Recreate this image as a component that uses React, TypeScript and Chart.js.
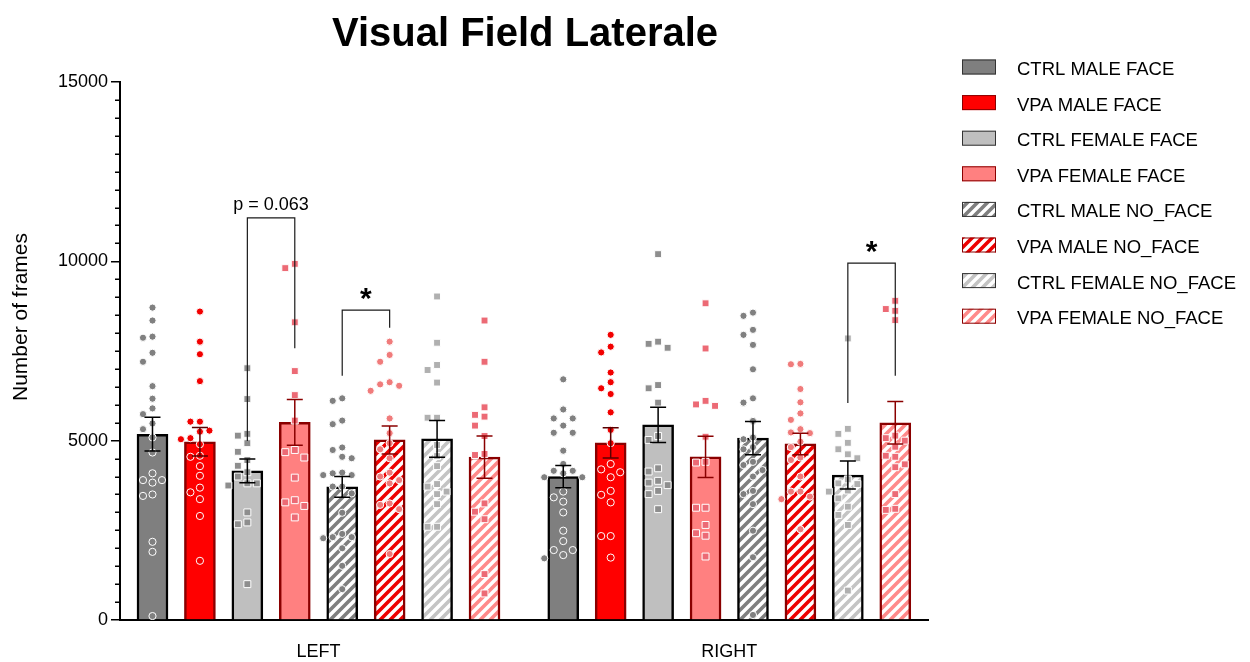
import React, { useEffect, useRef } from 'react';
import { Chart, registerables } from 'chart.js';

Chart.register(...registerables);

// ---------------- DATA ----------------
const TITLE = 'Visual Field Laterale';
const Y_TITLE = 'Number of frames';
const GROUPS = ['LEFT', 'RIGHT'];
const CONDITIONS = [
  'CTRL MALE FACE',
  'VPA MALE FACE',
  'CTRL FEMALE FACE',
  'VPA FEMALE FACE',
  'CTRL MALE NO_FACE',
  'VPA MALE NO_FACE',
  'CTRL FEMALE NO_FACE',
  'VPA FEMALE NO_FACE',
];
const Y_MIN = 0;
const Y_MAX = 15000;
const Y_MAJOR_STEP = 5000;
const Y_MINOR_STEP = 500;

const LEFT_MEANS = [5180, 4970, 4160, 5510, 3710, 5020, 5050, 4540];
const LEFT_SEM = [470, 400, 330, 640, 290, 390, 510, 590];
const RIGHT_MEANS = [4000, 4940, 5440, 4550, 5070, 4910, 4040, 5500];
const RIGHT_SEM = [310, 420, 490, 575, 465, 300, 390, 590];

const LEFT_CTRL_MALE_FACE = [8710, 8350, 7900, 7870, 7450, 7200, 6520, 6170, 5900, 5740, 5480, 5320, 5090, 4670, 4090, 3900, 3830, 3900, 3460, 3500, 2180, 1900, 110];
const LEFT_VPA_MALE_FACE = [8600, 7760, 7410, 6660, 5530, 5530, 5250, 5280, 5040, 5070, 4900, 4550, 4580, 4290, 4020, 3690, 3560, 3370, 2900, 1650];
const LEFT_CTRL_FEMALE_FACE = [7020, 6160, 5190, 5140, 4930, 4690, 4460, 4300, 4120, 4000, 3810, 3810, 3750, 3000, 2720, 2670, 1000];
const LEFT_VPA_FEMALE_FACE = [9930, 9810, 8300, 6940, 6270, 5560, 4740, 4680, 4530, 3970, 3340, 3280, 3180, 2860];
const LEFT_CTRL_MALE_NO_FACE = [6180, 6110, 5560, 5460, 4810, 4740, 4550, 4510, 4110, 4040, 4040, 4090, 3720, 3720, 3530, 2990, 2310, 2280, 2310, 2400, 2000, 1510, 860];
const LEFT_VPA_MALE_NO_FACE = [7760, 7390, 7200, 6570, 6630, 6530, 6390, 5620, 5210, 4930, 4760, 4510, 4110, 4000, 3900, 3810, 3210, 3250, 3090, 1840];
const LEFT_CTRL_FEMALE_NO_FACE = [9020, 7730, 7110, 6970, 6620, 5640, 5640, 4880, 4570, 4290, 3790, 3720, 3580, 3510, 3230, 2600, 2600];
const LEFT_VPA_FEMALE_NO_FACE = [8350, 7200, 5930, 5720, 5670, 5420, 5130, 4600, 4630, 3250, 3020, 2810, 1280, 740];

const RIGHT_CTRL_MALE_FACE = [6710, 5870, 5620, 5620, 5420, 5220, 5220, 4720, 4350, 4160, 4160, 3980, 3980, 4090, 3420, 3580, 3300, 3000, 2490, 2200, 1950, 1950, 1810, 1720];
const RIGHT_VPA_MALE_FACE = [7950, 7620, 7460, 6900, 6630, 6460, 6300, 5790, 5300, 4930, 4350, 4200, 4120, 3980, 3600, 3490, 3280, 2340, 2340, 1740];
const RIGHT_CTRL_FEMALE_FACE = [10200, 7700, 7760, 7590, 6460, 6550, 6060, 5130, 5020, 4140, 4230, 3830, 3880, 3600, 3760, 3510, 3090];
const RIGHT_VPA_FEMALE_FACE = [8830, 7570, 6110, 6010, 5970, 5110, 4410, 4390, 3130, 3130, 2650, 2420, 2350, 1770];
const RIGHT_CTRL_MALE_NO_FACE = [8570, 8480, 8090, 7950, 7670, 6990, 6180, 6060, 5550, 5090, 5040, 4820, 4760, 4410, 4320, 4180, 4000, 3600, 3510, 3230, 2490, 1750, 140];
const RIGHT_VPA_MALE_NO_FACE = [7130, 7140, 6440, 6070, 5760, 5580, 5210, 5320, 5230, 4970, 4820, 4530, 4460, 4000, 3580, 3580, 3440, 3370, 2530];
const RIGHT_CTRL_FEMALE_NO_FACE = [7850, 5190, 5330, 4940, 4760, 4620, 4510, 3920, 3810, 3790, 3610, 3580, 3390, 3160, 2930, 2650, 820];
const RIGHT_VPA_FEMALE_NO_FACE = [8900, 8620, 8670, 8360, 5070, 5000, 5140, 4830, 4580, 4550, 4340, 4260, 3510, 3070, 3100];

const LEFT_POINTS = [
  LEFT_CTRL_MALE_FACE, LEFT_VPA_MALE_FACE, LEFT_CTRL_FEMALE_FACE, LEFT_VPA_FEMALE_FACE,
  LEFT_CTRL_MALE_NO_FACE, LEFT_VPA_MALE_NO_FACE, LEFT_CTRL_FEMALE_NO_FACE, LEFT_VPA_FEMALE_NO_FACE,
];
const RIGHT_POINTS = [
  RIGHT_CTRL_MALE_FACE, RIGHT_VPA_MALE_FACE, RIGHT_CTRL_FEMALE_FACE, RIGHT_VPA_FEMALE_FACE,
  RIGHT_CTRL_MALE_NO_FACE, RIGHT_VPA_MALE_NO_FACE, RIGHT_CTRL_FEMALE_NO_FACE, RIGHT_VPA_FEMALE_NO_FACE,
];

// significance brackets
const BRACKET_GROUP = [0, 0, 1];
const BRACKET_FROM = [2, 4, 6];
const BRACKET_TO = [3, 5, 7];
const BRACKET_TOP = [11210, 8640, 9950];
const BRACKET_LEFT_END = [4990, 6810, 6050];
const BRACKET_RIGHT_END = [7580, 8150, 6810];
const BRACKET_LABEL = ['p = 0.063', '*', '*'];

// ---------------- STYLE / LAYOUT ----------------
const FONT = '"Liberation Sans", Arial, Helvetica, sans-serif';
const GROUP_SPACING = 8.66;
const X_MIN = -0.685;
const X_MAX = 16.35;
const barX = (g: number, i: number) => g * GROUP_SPACING + i;

type Style = { color: string; hatch: boolean; border: string; point: string; shape: 'circle' | 'rect'; err: string };
const STYLES: Style[] = [
  { color: '#7f7f7f', hatch: false, border: '#000000', point: '#808080', shape: 'circle', err: '#000000' },
  { color: '#ff0000', hatch: false, border: '#8a0000', point: '#f20000', shape: 'circle', err: '#5a0000' },
  { color: '#bfbfbf', hatch: false, border: '#000000', point: '#8e8e8e', shape: 'rect', err: '#000000' },
  { color: '#ff8080', hatch: false, border: '#8a0000', point: '#ec6a75', shape: 'rect', err: '#8a0000' },
  { color: '#7f7f7f', hatch: true, border: '#000000', point: '#808080', shape: 'circle', err: '#000000' },
  { color: '#ee0000', hatch: true, border: '#8a0000', point: '#f07b7b', shape: 'circle', err: '#8a0000' },
  { color: '#c4c4c4', hatch: true, border: '#000000', point: '#b0b0b0', shape: 'rect', err: '#000000' },
  { color: '#ff8a8a', hatch: true, border: '#8a0000', point: '#ec6a75', shape: 'rect', err: '#8a0000' },
];

const PX_X = 47.43;
const PX_Y = 538 / 15000;
function swarm(values: number[], cx: number) {
  const diam = 9;
  const step = 9.5;
  const placed: { px: number; py: number }[] = [];
  const out: { x: number; y: number }[] = [];
  const sorted = [...values].sort((a, b) => b - a);
  for (const v of sorted) {
    const py = v * PX_Y;
    let chosen = 0;
    for (let k = 0; k < 15; k++) {
      const idx = k === 0 ? 0 : (k % 2 === 1 ? -Math.ceil(k / 2) : Math.ceil(k / 2));
      const px = idx * step;
      const ok = placed.every((p) => (p.px - px) ** 2 + (p.py - py) ** 2 >= diam * diam);
      if (ok) { chosen = px; break; }
    }
    placed.push({ px: chosen, py });
    out.push({ x: cx + chosen / PX_X, y: v });
  }
  return out;
}

function makeHatch(color: string): CanvasPattern {
  const s = 10;
  const c = document.createElement('canvas');
  c.width = s; c.height = s;
  const g = c.getContext('2d')!;
  g.fillStyle = '#ffffff';
  g.fillRect(0, 0, s, s);
  g.strokeStyle = color;
  g.lineWidth = 3.6;
  g.beginPath();
  for (const k of [-s, 0, s]) {
    g.moveTo(k - 3, s + 3);
    g.lineTo(k + s + 3, -3);
  }
  g.stroke();
  return g.createPattern(c, 'repeat')!;
}

export default function App() {
  const ref = useRef<HTMLCanvasElement>(null);

  useEffect(() => {
    const canvas = ref.current!;
    const fills = STYLES.map((s) => (s.hatch ? makeHatch(s.color) : s.color));

    const datasets: any[] = [];
    CONDITIONS.forEach((name, i) => {
      datasets.push({
        type: 'bar',
        label: name,
        data: [
          { x: barX(0, i), y: LEFT_MEANS[i] },
          { x: barX(1, i), y: RIGHT_MEANS[i] },
        ],
        backgroundColor: fills[i],
        borderColor: STYLES[i].border,
        borderWidth: 2.5,
        grouped: false,
        barThickness: 31,
        maxBarThickness: 31,
        order: 2,
      });
    });
    CONDITIONS.forEach((name, i) => {
      const st = STYLES[i];
      datasets.push({
        type: 'scatter',
        label: name + ' (individual)',
        data: [...swarm(LEFT_POINTS[i], barX(0, i)), ...swarm(RIGHT_POINTS[i], barX(1, i))],
        pointStyle: st.shape,
        pointRadius: st.shape === 'rect' ? 4.9 : 3.6,
        pointBackgroundColor: st.point,
        pointBorderColor: '#ffffff',
        pointBorderWidth: 1,
        showLine: false,
        order: 1,
      });
    });

    const overlay = {
      id: 'overlay',
      afterDatasetsDraw(chart: any) {
        const { ctx, scales, chartArea } = chart;
        const xs = scales.x;
        const ys = scales.y;
        ctx.save();
        // error bars
        const groupsMeans = [LEFT_MEANS, RIGHT_MEANS];
        const groupsSem = [LEFT_SEM, RIGHT_SEM];
        for (let g = 0; g < 2; g++) {
          for (let i = 0; i < CONDITIONS.length; i++) {
            const cx = xs.getPixelForValue(barX(g, i));
            const m = groupsMeans[g][i];
            const s = groupsSem[g][i];
            const yt = ys.getPixelForValue(m + s);
            const yb = ys.getPixelForValue(m - s);
            ctx.strokeStyle = STYLES[i].err;
            ctx.lineWidth = 1.5;
            ctx.beginPath();
            ctx.moveTo(cx, yt); ctx.lineTo(cx, yb);
            ctx.moveTo(cx - 8, yt); ctx.lineTo(cx + 8, yt);
            ctx.moveTo(cx - 8, yb); ctx.lineTo(cx + 8, yb);
            ctx.stroke();
          }
        }
        // brackets
        for (let b = 0; b < BRACKET_LABEL.length; b++) {
          const g = BRACKET_GROUP[b];
          const x1 = xs.getPixelForValue(barX(g, BRACKET_FROM[b]));
          const x2 = xs.getPixelForValue(barX(g, BRACKET_TO[b]));
          const yt = ys.getPixelForValue(BRACKET_TOP[b]);
          ctx.strokeStyle = '#1a1a1a';
          ctx.lineWidth = 1.2;
          ctx.beginPath();
          ctx.moveTo(x1, ys.getPixelForValue(BRACKET_LEFT_END[b]));
          ctx.lineTo(x1, yt);
          ctx.lineTo(x2, yt);
          ctx.lineTo(x2, ys.getPixelForValue(BRACKET_RIGHT_END[b]));
          ctx.stroke();
          const label = BRACKET_LABEL[b];
          ctx.fillStyle = '#000';
          ctx.textAlign = 'center';
          ctx.textBaseline = 'alphabetic';
          if (label === '*') {
            ctx.font = `bold 30px ${FONT}`;
            const m = ctx.measureText(label);
            const center = yt - 16;
            const base = center - (m.actualBoundingBoxDescent - m.actualBoundingBoxAscent) / 2;
            ctx.fillText(label, (x1 + x2) / 2, base);
          } else {
            ctx.font = `18px ${FONT}`;
            ctx.fillText(label, (x1 + x2) / 2, yt - 8);
          }
        }
        // minor ticks on y axis
        ctx.strokeStyle = '#000';
        ctx.lineWidth = 1.5;
        ctx.beginPath();
        for (let v = Y_MIN + Y_MINOR_STEP; v < Y_MAX; v += Y_MINOR_STEP) {
          if (v % Y_MAJOR_STEP === 0) continue;
          const py = Math.round(ys.getPixelForValue(v)) + 0.25;
          ctx.moveTo(chartArea.left - 5, py);
          ctx.lineTo(chartArea.left, py);
        }
        ctx.stroke();
        ctx.restore();
      },
      afterDraw(chart: any) {
        const { ctx } = chart;
        ctx.save();
        // title
        ctx.fillStyle = '#000';
        ctx.font = `bold 40px ${FONT}`;
        ctx.textAlign = 'center';
        ctx.textBaseline = 'alphabetic';
        ctx.fillText(TITLE, 525, 46);
        // y title
        ctx.save();
        ctx.translate(27, 317);
        ctx.rotate(-Math.PI / 2);
        ctx.font = `21px ${FONT}`;
        ctx.textAlign = 'center';
        ctx.fillText(Y_TITLE, 0, 0);
        ctx.restore();
        // legend
        ctx.font = `18.5px ${FONT}`;
        ctx.textAlign = 'left';
        ctx.textBaseline = 'middle';
        CONDITIONS.forEach((name, i) => {
          const ry = 67 + i * 35.6;
          ctx.fillStyle = fills[i] as any;
          ctx.fillRect(962, ry - 7.5, 34, 15);
          ctx.strokeStyle = STYLES[i].border === '#000000' ? '#333333' : STYLES[i].border;
          ctx.lineWidth = 1;
          ctx.strokeRect(962.5, ry - 7, 33, 14);
          ctx.fillStyle = '#000';
          ctx.fillText(name, 1017, ry + 3);
        });
        ctx.restore();
      },
    };

    const groupCenters = GROUPS.map((_, g) => barX(g, (CONDITIONS.length - 1) / 2));

    const chart = new Chart(canvas, {
      type: 'bar',
      data: { datasets },
      options: {
        animation: false,
        responsive: false,
        devicePixelRatio: 1,
        events: [],
        layout: { padding: { left: 0, right: 1250 - 928, top: 82, bottom: 0 } },
        plugins: {
          legend: { display: false },
          title: { display: false },
          tooltip: { enabled: false },
        },
        scales: {
          x: {
            type: 'linear',
            min: X_MIN,
            max: X_MAX,
            offset: false,
            grid: { display: false, drawTicks: false },
            border: { display: true, color: '#000', width: 2 },
            afterBuildTicks: (scale: any) => {
              scale.ticks = groupCenters.map((v) => ({ value: v }));
            },
            afterFit: (scale: any) => { scale.height = 42; },
            ticks: {
              autoSkip: false,
              maxRotation: 0,
              padding: 21,
              color: '#000',
              font: { family: FONT, size: 18 },
              callback: (_v: any, idx: number) => GROUPS[idx],
            },
          },
          y: {
            type: 'linear',
            min: Y_MIN,
            max: Y_MAX,
            grid: { display: true, drawOnChartArea: false, drawTicks: true, tickLength: 9, color: '#000', lineWidth: 1.5 },
            border: { display: true, color: '#000', width: 2 },
            afterFit: (scale: any) => { scale.width = 120; },
            ticks: {
              stepSize: Y_MAJOR_STEP,
              padding: 3,
              color: '#000',
              font: { family: FONT, size: 18 },
              callback: (v: any) => String(v),
            },
          },
        },
      },
      plugins: [overlay],
    } as any);

    return () => chart.destroy();
  }, []);

  return (
    <div style={{ position: 'absolute', left: 0, top: 0, width: 1250, height: 662, background: '#fff' }}>
      <canvas ref={ref} width={1250} height={662} style={{ display: 'block' }} />
    </div>
  );
}
